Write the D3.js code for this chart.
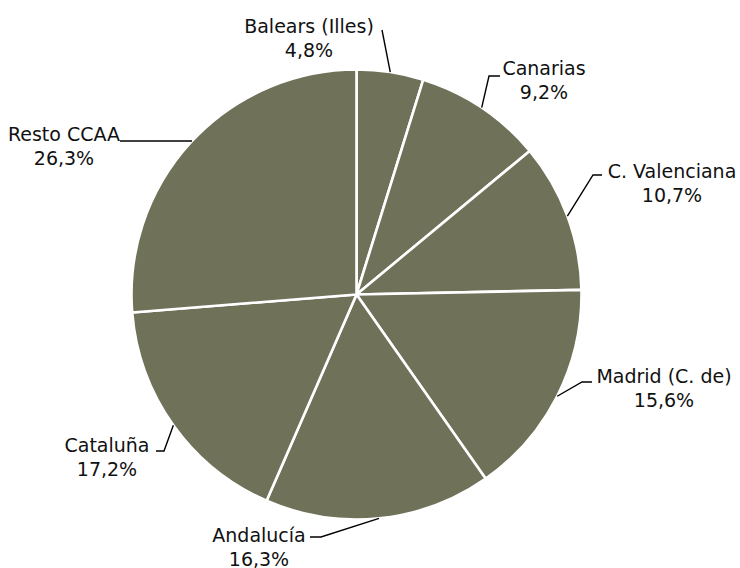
<!DOCTYPE html>
<html lang="es">
<head>
    <meta charset="utf-8">
    <title>Distribución por CCAA</title>
    <style>
        body {
            margin: 0;
            background: #fff;
        }

        .label {
            font: 19px "DejaVu Sans", Verdana, sans-serif;
            fill: #111;
        }

        .leader {
            fill: none;
            stroke: #000;
            stroke-width: 1.4;
        }
    </style>
</head>
<body>
<svg class="chart"></svg>
<script src="https://d3js.org/d3.v7.min.js"></script>
<script>

  const regions = ["Balears (Illes)", "Canarias", "C. Valenciana", "Madrid (C. de)",
    "Andalucía", "Cataluña", "Resto CCAA"];
  const shares = [4.8, 9.2, 10.7, 15.6, 16.3, 17.2, 26.3];
  const shareLabels = ["4,8%", "9,2%", "10,7%", "15,6%", "16,3%", "17,2%", "26,3%"];

  const width = 740;
  const height = 568;
  const cx = 356.5;
  const cy = 294.5;
  const radius = 225;

  // label centre x, first baseline y, and the fixed start of each leader line
  const labelLayout = [
    { x: 309, y: 33, leader: [[382, 30]] },
    { x: 544, y: 75, leader: [[500, 76], [489, 76]] },
    { x: 672, y: 178, leader: [[602, 175], [593, 175]] },
    { x: 664, y: 383, leader: [[592, 382], [582, 382]] },
    { x: 259, y: 542, leader: [[310, 537], [321, 537]] },
    { x: 107, y: 452, leader: [[156, 451], [164, 451]] },
    { x: 64, y: 141, leader: [[120, 141]], flat: true }
  ];

  const svg = d3.select(".chart")
    .attr("width", width)
    .attr("height", height);

  const pie = d3.pie().sort(null).value(d => d);
  const arcs = pie(shares);

  const arc = d3.arc().innerRadius(0).outerRadius(radius);

  const g = svg.append("g")
    .attr("transform", `translate(${cx},${cy})`);

  g.selectAll("path")
    .data(arcs)
    .enter()
    .append("path")
    .attr("d", arc)
    .style("fill", "#6f7259")
    .style("stroke", "#fff")
    .style("stroke-width", 2.6)
    .style("stroke-linejoin", "round");

  // leader lines: end on the pie edge at the slice's mid angle
  arcs.forEach((a, i) => {
    const L = labelLayout[i];
    const mid = (a.startAngle + a.endAngle) / 2;
    let end = [cx + radius * Math.sin(mid), cy - radius * Math.cos(mid)];
    if (L.flat) {
      // straight across until it meets the edge
      const y = L.leader[0][1];
      end = [cx - Math.sqrt(radius * radius - (y - cy) * (y - cy)), y];
    }
    svg.append("path")
      .attr("class", "leader")
      .attr("d", d3.line()(L.leader.concat([end])));
  });

  // labels
  const labels = svg.selectAll("text.label")
    .data(regions)
    .enter()
    .append("text")
    .attr("class", "label")
    .attr("text-anchor", "middle")
    .attr("x", (d, i) => labelLayout[i].x)
    .attr("y", (d, i) => labelLayout[i].y);

  labels.append("tspan")
    .attr("x", (d, i) => labelLayout[i].x)
    .text(d => d);

  labels.append("tspan")
    .attr("x", (d, i) => labelLayout[i].x)
    .attr("dy", 24)
    .text((d, i) => shareLabels[i]);

</script>
</body>
</html>
